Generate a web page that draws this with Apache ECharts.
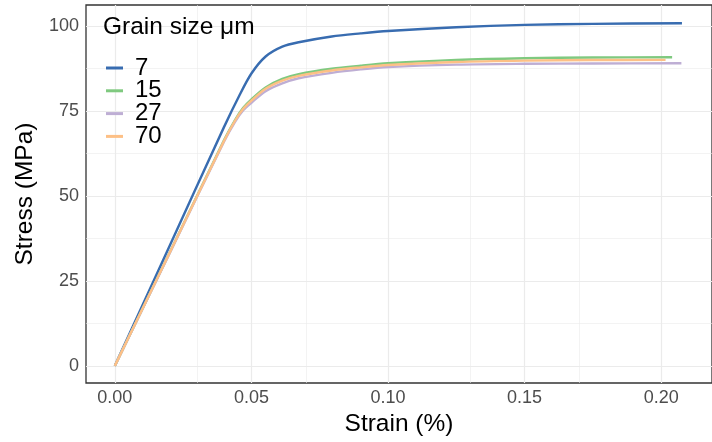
<!DOCTYPE html>
<html>
<head>
<meta charset="utf-8">
<script src="https://cdn.jsdelivr.net/npm/echarts@6/dist/echarts.min.js"></script>
<style>html,body{margin:0;padding:0;background:#fff;}#c{width:712px;height:442px;}</style>
</head>
<body>
<div id="c"></div>
<script>
// ---- data ----
const grainSizes = ['7', '15', '27', '70'];
const strain7  = [0, 0.02, 0.04, 0.0455, 0.050, 0.0552, 0.0613, 0.0673, 0.0794, 0.09, 0.100, 0.125, 0.150, 0.175, 0.2076];
const stress7  = [0, 35.2, 70.3, 79.4, 86.0, 91.0, 93.9, 95.2, 96.9, 97.8, 98.5, 99.6, 100.3, 100.6, 100.8];
const strain15 = [0, 0.02, 0.04, 0.044, 0.047, 0.050, 0.0552, 0.0613, 0.0673, 0.0794, 0.09, 0.100, 0.125, 0.150, 0.175, 0.2040];
const stress15 = [0, 33.2, 66.4, 72.3, 75.9, 78.4, 81.9, 84.4, 85.8, 87.4, 88.3, 89.0, 90.0, 90.5, 90.7, 90.8];
const strain27 = [0, 0.02, 0.04, 0.044, 0.047, 0.050, 0.0552, 0.0613, 0.0673, 0.0794, 0.09, 0.100, 0.125, 0.150, 0.175, 0.2074];
const stress27 = [0, 33.0, 66.0, 71.8, 75.2, 77.4, 80.8, 83.1, 84.6, 86.2, 87.2, 87.9, 88.6, 88.85, 88.95, 89.0];
const strain70 = [0, 0.02, 0.04, 0.044, 0.047, 0.050, 0.0552, 0.0613, 0.0673, 0.0794, 0.09, 0.100, 0.125, 0.150, 0.175, 0.2016];
const stress70 = [0, 33.1, 66.2, 72.1, 75.6, 78.0, 81.5, 83.9, 85.3, 86.9, 87.8, 88.5, 89.4, 89.8, 89.95, 90.0];
const xTicks = [0, 0.05, 0.10, 0.15, 0.20];
const xMinor = [0.025, 0.075, 0.125, 0.175];
const yTicks = [0, 25, 50, 75, 100];
const yMinor = [12.5, 37.5, 62.5, 87.5];

// ---- styling ----
const colors = ['#386CB0', '#7FC97F', '#BEAED4', '#FDC086'];
const FONT = '"Liberation Sans", Arial, Helvetica, sans-serif';
const strains = [strain7, strain15, strain27, strain70];
const stresses = [stress7, stress15, stress27, stress70];

const pair = (xs, ys) => xs.map((x, i) => [x, ys[i]]);

const lineSeries = grainSizes.map((g, k) => ({
  name: g,
  type: 'line',
  data: pair(strains[k], stresses[k]),
  showSymbol: false,
  symbol: 'none',
  smooth: 0.3,
  lineStyle: { color: colors[k], width: 2.4 },
  itemStyle: { color: colors[k] },
  z: 10 + k,
  animation: false
}));

const gridSeries = {
  name: 'gridlines',
  type: 'line',
  data: [],
  silent: true,
  z: 1,
  animation: false,
  markLine: {
    z: 1,
    silent: true,
    animation: false,
    symbol: ['none', 'none'],
    label: { show: false },
    data: [
      ...xMinor.map(v => ({ xAxis: v, lineStyle: { color: '#EBEBEB', width: 0.6, type: 'solid' } })),
      ...yMinor.map(v => ({ yAxis: v, lineStyle: { color: '#EBEBEB', width: 0.6, type: 'solid' } })),
      ...xTicks.map(v => ({ xAxis: v, lineStyle: { color: '#EBEBEB', width: 1.2, type: 'solid' } })),
      ...yTicks.map(v => ({ yAxis: v, lineStyle: { color: '#EBEBEB', width: 1.2, type: 'solid' } }))
    ]
  }
};

const chart = echarts.init(document.getElementById('c'), null, { renderer: 'canvas' });
chart.setOption({
  backgroundColor: '#ffffff',
  animation: false,
  textStyle: { fontFamily: FONT },
  title: {
    text: 'Grain size μm',
    left: 98,
    top: 10,
    textStyle: { fontFamily: FONT, fontSize: 24.5, fontWeight: 'normal', color: '#000' }
  },
  legend: {
    data: grainSizes.map((g, k) => ({
      name: g,
      itemStyle: { color: colors[k], borderWidth: 0, opacity: 1 },
      lineStyle: { color: colors[k], width: 2.7, opacity: 1 }
    })),
    orient: 'vertical',
    left: 101,
    top: 51,
    icon: 'rect',
    itemWidth: 17,
    itemHeight: 3,
    itemGap: -1.2,
    textStyle: { fontFamily: FONT, fontSize: 24, color: '#000', padding: [0, 0, 0, 7] }
  },
  grid: {
    left: 86,
    top: 5,
    width: 630,
    height: 378,
    show: true,
    borderColor: '#333333',
    borderWidth: 1.3,
    backgroundColor: 'transparent'
  },
  xAxis: {
    type: 'value',
    min: -0.01055,
    max: 0.2186,
    name: 'Strain (%)',
    nameLocation: 'middle',
    nameGap: 28.5,
    nameTextStyle: { fontFamily: FONT, fontSize: 24.5, color: '#000' },
    axisLine: { show: false },
    axisTick: { show: true, customValues: xTicks, length: 4, lineStyle: { color: '#333333', width: 1 } },
    axisLabel: { customValues: xTicks, margin: 6, fontFamily: FONT, fontSize: 18, color: '#4D4D4D',
                 formatter: v => v.toFixed(2) },
    splitLine: { show: false }
  },
  yAxis: {
    type: 'value',
    min: -5.04,
    max: 106.15,
    name: 'Stress (MPa)',
    nameLocation: 'middle',
    nameGap: 48,
    nameTextStyle: { fontFamily: FONT, fontSize: 24.5, color: '#000' },
    axisLine: { show: false },
    axisTick: { show: true, customValues: yTicks, length: 4, lineStyle: { color: '#333333', width: 1 } },
    axisLabel: { customValues: yTicks, margin: 7, fontFamily: FONT, fontSize: 18, color: '#4D4D4D',
                 formatter: v => String(v) },
    splitLine: { show: false }
  },
  series: [gridSeries, ...lineSeries]
});
</script>
</body>
</html>
